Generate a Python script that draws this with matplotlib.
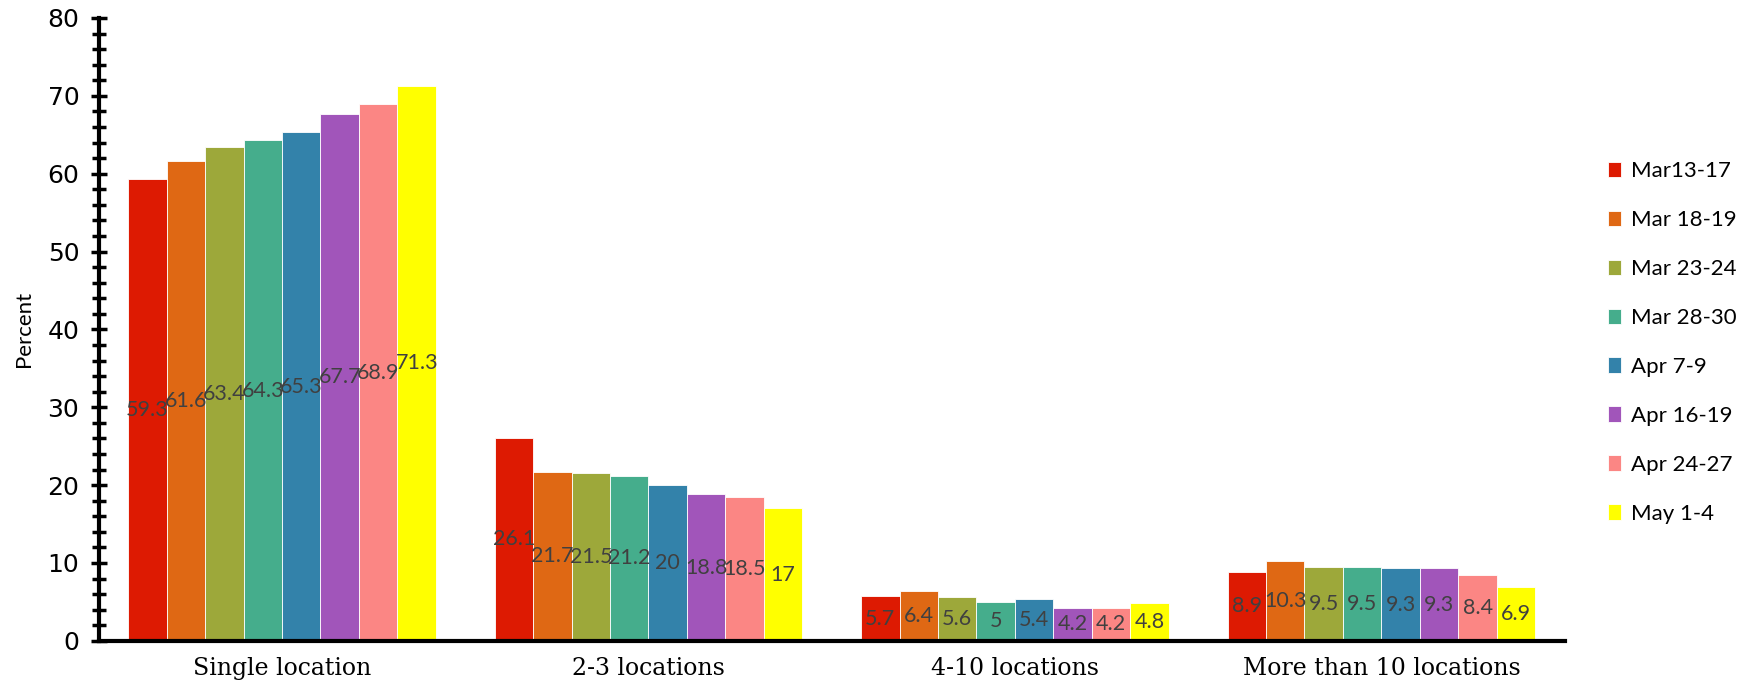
import matplotlib
matplotlib.use("Agg")
import matplotlib.pyplot as plt
import numpy as np
from matplotlib.ticker import MultipleLocator

categories = ["Single location", "2-3 locations", "4-10 locations", "More than 10 locations"]
series_names = ["Mar13-17", "Mar 18-19", "Mar 23-24", "Mar 28-30", "Apr 7-9", "Apr 16-19", "Apr 24-27", "May 1-4"]
mar13_17 = [59.3, 26.1, 5.7, 8.9]
mar18_19 = [61.6, 21.7, 6.4, 10.3]
mar23_24 = [63.4, 21.5, 5.6, 9.5]
mar28_30 = [64.3, 21.2, 5.0, 9.5]
apr7_9 = [65.3, 20.0, 5.4, 9.3]
apr16_19 = [67.7, 18.8, 4.2, 9.3]
apr24_27 = [68.9, 18.5, 4.2, 8.4]
may1_4 = [71.3, 17.0, 4.8, 6.9]
label_texts = [
    ["59.3", "26.1", "5.7", "8.9"],
    ["61.6", "21.7", "6.4", "10.3"],
    ["63.4", "21.5", "5.6", "9.5"],
    ["64.3", "21.2", "5", "9.5"],
    ["65.3", "20", "5.4", "9.3"],
    ["67.7", "18.8", "4.2", "9.3"],
    ["68.9", "18.5", "4.2", "8.4"],
    ["71.3", "17", "4.8", "6.9"],
]
colors = ["#DD1A02", "#DF6814", "#9DA83A", "#45AD8C", "#3382AA", "#A155BA", "#FB8684", "#FFFF00"]

series = [mar13_17, mar18_19, mar23_24, mar28_30, apr7_9, apr16_19, apr24_27, may1_4]

fig = plt.figure(figsize=(17.64, 6.92), dpi=100)
ax = fig.add_axes([0.056, 0.074, 0.831, 0.90])

n = len(series)
group_w = 0.84
bw = group_w / n
x = np.arange(len(categories))
for i, (vals, name, col) in enumerate(zip(series, series_names, colors)):
    pos = x - group_w / 2 + bw * (i + 0.5)
    ax.bar(pos, vals, width=bw, color=col, label=name, edgecolor="white", linewidth=0.6)
    for p, v, t in zip(pos, vals, label_texts[i]):
        ax.text(p, v / 2, t, ha="center", va="center", fontsize=15.5,
                color="#404040", family="Lato")

ax.set_xlim(-0.5, 3.5)
ax.set_ylim(0, 80)
ax.set_xticks(x)
ax.set_xticklabels(categories, family="DejaVu Serif", fontsize=17)
ax.yaxis.set_major_locator(MultipleLocator(10))
ax.yaxis.set_minor_locator(MultipleLocator(2))
ax.tick_params(axis="y", which="major", direction="inout", length=12, width=2.5,
               labelsize=18, pad=8)
ax.tick_params(axis="y", which="minor", direction="inout", length=10, width=2.5)
ax.tick_params(axis="x", length=0, pad=12)
for lab in ax.get_yticklabels():
    lab.set_family("DejaVu Sans")
ax.set_ylabel("Percent", family="Lato", fontsize=16, labelpad=10)
for s in ["top", "right"]:
    ax.spines[s].set_visible(False)
ax.spines["left"].set_linewidth(3)
ax.spines["bottom"].set_linewidth(3)

leg = fig.legend(loc="center left", bbox_to_anchor=(0.9, 0.505), frameon=False,
                 prop={"family": "Lato", "size": 16}, handlelength=0.6, handleheight=0.7,
                 handletextpad=0.45, labelspacing=1.3)

fig.savefig("out.png", dpi=100)
